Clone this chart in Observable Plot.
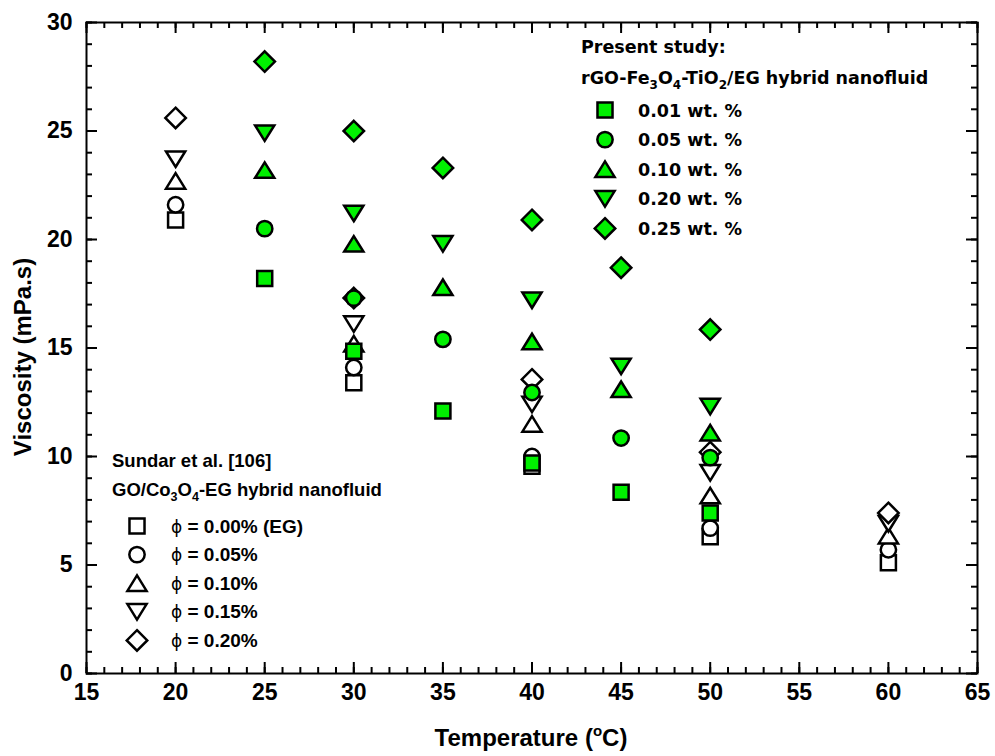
<!DOCTYPE html>
<html>
<head>
<meta charset="utf-8">
<script src="https://cdn.jsdelivr.net/npm/d3@7"></script>
<script src="https://cdn.jsdelivr.net/npm/@observablehq/plot@0.6"></script>
<style>
  html, body { margin: 0; padding: 0; background: #fff; }
  #wrap { position: relative; width: 995px; height: 756px; }
</style>
</head>
<body>
<div id="wrap"></div>
<script>
// ---------------- DATA ----------------
const xMajorTicks = [15, 20, 25, 30, 35, 40, 45, 50, 55, 60, 65];
const yMajorTicks = [0, 5, 10, 15, 20, 25, 30];

// Sundar et al. [106] – GO/Co3O4-EG hybrid nanofluid (open symbols)
const sundarTemps = [20, 30, 40, 50, 60];
const sundar000 = [20.9, 13.4, 9.55, 6.3, 5.1];
const sundar005 = [21.6, 14.1, 10.0, 6.7, 5.7];
const sundar010 = [22.7, 15.2, 11.5, 8.2, 6.35];
const sundar015 = [23.7, 16.1, 12.4, 9.25, 6.9];
const sundar020 = [25.6, 17.3, 13.55, 10.2, 7.4];
const sundarLabels = ["\u03D5 = 0.00% (EG)", "\u03D5 = 0.05%", "\u03D5 = 0.10%", "\u03D5 = 0.15%", "\u03D5 = 0.20%"];

// Present study – rGO-Fe3O4-TiO2/EG hybrid nanofluid (green symbols)
const presentTemps = [25, 30, 35, 40, 45, 50];
const present001 = [18.2, 14.85, 12.1, 9.7, 8.35, 7.4];
const present005 = [20.5, 17.3, 15.4, 12.95, 10.85, 9.95];
const present010 = [23.2, 19.8, 17.8, 15.3, 13.1, 11.1];
const present020 = [24.9, 21.2, 19.8, 17.2, 14.15, 12.3];
const present025 = [28.2, 25.0, 23.3, 20.9, 18.7, 15.85];
const presentLabels = ["0.01 wt. %", "0.05 wt. %", "0.10 wt. %", "0.20 wt. %", "0.25 wt. %"];

const shapes = ["square", "circle", "triUp", "triDown", "diamond"];
const GREEN = "#00f000";

// ---------------- SYMBOLS ----------------
const SYM = {
  square: {draw(c, s) { const r = Math.sqrt(s / Math.PI), h = r * 0.94;
    c.moveTo(-h, -h); c.lineTo(h, -h); c.lineTo(h, h); c.lineTo(-h, h); c.closePath(); }},
  circle: {draw(c, s) { const r = Math.sqrt(s / Math.PI) * 0.96;
    c.moveTo(r, 0); c.arc(0, 0, r, 0, 2 * Math.PI); }},
  triUp: {draw(c, s) { const r = Math.sqrt(s / Math.PI), w = r * 1.2, h = r * 0.97;
    c.moveTo(0, -h); c.lineTo(w, h); c.lineTo(-w, h); c.closePath(); }},
  triDown: {draw(c, s) { const r = Math.sqrt(s / Math.PI), w = r * 1.2, h = r * 0.97;
    c.moveTo(0, h); c.lineTo(w, -h); c.lineTo(-w, -h); c.closePath(); }},
  diamond: {draw(c, s) { const r = Math.sqrt(s / Math.PI) * 1.28;
    c.moveTo(0, -r); c.lineTo(r, 0); c.lineTo(0, r); c.lineTo(-r, 0); c.closePath(); }}
};

const sundarSeries = [sundar000, sundar005, sundar010, sundar015, sundar020];
const presentSeries = [present001, present005, present010, present020, present025];

const W = 995, H = 756, mL = 86, mR = 18, mT = 22, mB = 83;
const fw = W - mL - mR, fh = H - mT - mB;
const R = 8;

const minorX = d3.range(15, 66, 1);
const minorY = d3.range(0, 31, 1);

const dotMarks = [];
sundarSeries.forEach((vals, k) => {
  dotMarks.push(Plot.dot(vals.map((v, i) => ({t: sundarTemps[i], v})), {
    x: "t", y: "v", symbol: SYM[shapes[k]], r: R,
    fill: "white", stroke: "black", strokeWidth: 2.5
  }));
});
presentSeries.forEach((vals, k) => {
  dotMarks.push(Plot.dot(vals.map((v, i) => ({t: presentTemps[i], v})), {
    x: "t", y: "v", symbol: SYM[shapes[k]], r: R,
    fill: GREEN, stroke: "black", strokeWidth: 2.5
  }));
});

const chart = Plot.plot({
  width: W, height: H,
  marginLeft: mL, marginRight: mR, marginTop: mT, marginBottom: mB,
  x: {domain: [15, 65]},
  y: {domain: [0, 30]},
  style: {fontFamily: "'Liberation Sans', Arial, sans-serif", fontWeight: "bold", fontSize: "23px", color: "#000", background: "#fff"},
  marks: [
    Plot.axisX({ticks: xMajorTicks, tickSize: 0, tickPadding: 10, label: null, tickFormat: d => String(d)}),
    Plot.axisY({ticks: yMajorTicks, tickSize: 0, tickPadding: 14, label: null, tickFormat: d => String(d)}),
    // inward minor ticks on all sides
    Plot.tickX(minorX, {x: d => d, insetTop: fh - 6, stroke: "black", strokeWidth: 2}),
    Plot.tickX(minorX, {x: d => d, insetBottom: fh - 6, stroke: "black", strokeWidth: 2}),
    Plot.tickY(minorY, {y: d => d, insetRight: fw - 6, stroke: "black", strokeWidth: 2}),
    Plot.tickY(minorY, {y: d => d, insetLeft: fw - 6, stroke: "black", strokeWidth: 2}),
    // inward major ticks on all sides
    Plot.tickX(xMajorTicks, {x: d => d, insetTop: fh - 11, stroke: "black", strokeWidth: 2}),
    Plot.tickX(xMajorTicks, {x: d => d, insetBottom: fh - 11, stroke: "black", strokeWidth: 2}),
    Plot.tickY(yMajorTicks, {y: d => d, insetRight: fw - 11, stroke: "black", strokeWidth: 2}),
    Plot.tickY(yMajorTicks, {y: d => d, insetLeft: fw - 11, stroke: "black", strokeWidth: 2}),
    Plot.frame({stroke: "black", strokeWidth: 2}),
    ...dotMarks
  ]
});

document.getElementById("wrap").appendChild(chart);

// ---------------- TITLES & LEGENDS (overlay) ----------------
const svg = d3.select(chart);
const g = svg.append("g").attr("fill", "#000").attr("font-weight", "bold").attr("text-anchor", "start");

// axis titles
const xt = g.append("text").attr("x", 531).attr("y", 746).attr("text-anchor", "middle")
  .attr("font-family", "'Liberation Sans', Arial, sans-serif").attr("font-size", 24);
xt.append("tspan").text("Temperature (");
xt.append("tspan").attr("font-size", 15).attr("dy", -10).text("o");
xt.append("tspan").attr("dy", 10).text("C)");

g.append("text").attr("transform", "translate(31,357) rotate(-90)").attr("text-anchor", "middle")
  .attr("font-family", "'Liberation Sans', Arial, sans-serif").attr("font-size", 24)
  .text("Viscosity (mPa.s)");

// text with subscripts: strings are normal runs, {sub} objects are subscripts
function subText(sel, parts, subSize) {
  let back = 0;
  parts.forEach(p => {
    if (typeof p === "string") {
      const ts = sel.append("tspan").text(p);
      if (back) { ts.attr("dy", -back); back = 0; }
    } else {
      const ts = sel.append("tspan").attr("font-size", subSize).text(p.sub);
      ts.attr("dy", 5 - back); back = 5;
    }
  });
}

// Legend 1 – present study
const L1 = g.append("g").attr("font-family", "'DejaVu Sans', Verdana, sans-serif").attr("font-size", 17.5).attr("text-anchor", "start");
L1.append("text").attr("x", 581).attr("y", 53).text("Present study:");
const l1b = L1.append("text").attr("x", 581).attr("y", 83.5);
subText(l1b, ["rGO-Fe", {sub: "3"}, "O", {sub: "4"}, "-TiO", {sub: "2"}, "/EG hybrid nanofluid"], 12);
presentLabels.forEach((lab, k) => {
  const cy = 110 + k * 29.6;
  L1.append("path").attr("transform", `translate(605,${cy})`)
    .attr("d", d3.symbol(SYM[shapes[k]], R * R * Math.PI)())
    .attr("fill", GREEN).attr("stroke", "black").attr("stroke-width", 2.5);
  L1.append("text").attr("x", 638).attr("y", cy + 6.5).text(lab);
});

// Legend 2 – Sundar et al.
const L2 = g.append("g").attr("font-family", "'Liberation Sans', Arial, sans-serif").attr("font-size", 18.5).attr("text-anchor", "start");
L2.append("text").attr("x", 112).attr("y", 467).text("Sundar et al. [106]");
const l2b = L2.append("text").attr("x", 112).attr("y", 496);
subText(l2b, ["GO/Co", {sub: "3"}, "O", {sub: "4"}, "-EG hybrid nanofluid"], 12.5);
sundarLabels.forEach((lab, k) => {
  const cy = 526 + k * 28.6;
  L2.append("path").attr("transform", `translate(137,${cy})`)
    .attr("d", d3.symbol(SYM[shapes[k]], R * R * Math.PI)())
    .attr("fill", "white").attr("stroke", "black").attr("stroke-width", 2.5);
  const t = L2.append("text").attr("x", 171).attr("y", cy + 6.5);
  t.append("tspan").attr("font-weight", "normal").attr("font-family", "'DejaVu Sans', sans-serif").attr("font-size", 17).text(lab.slice(0, 1));
  t.append("tspan").attr("font-size", 19).text(lab.slice(1));
});
</script>
</body>
</html>
